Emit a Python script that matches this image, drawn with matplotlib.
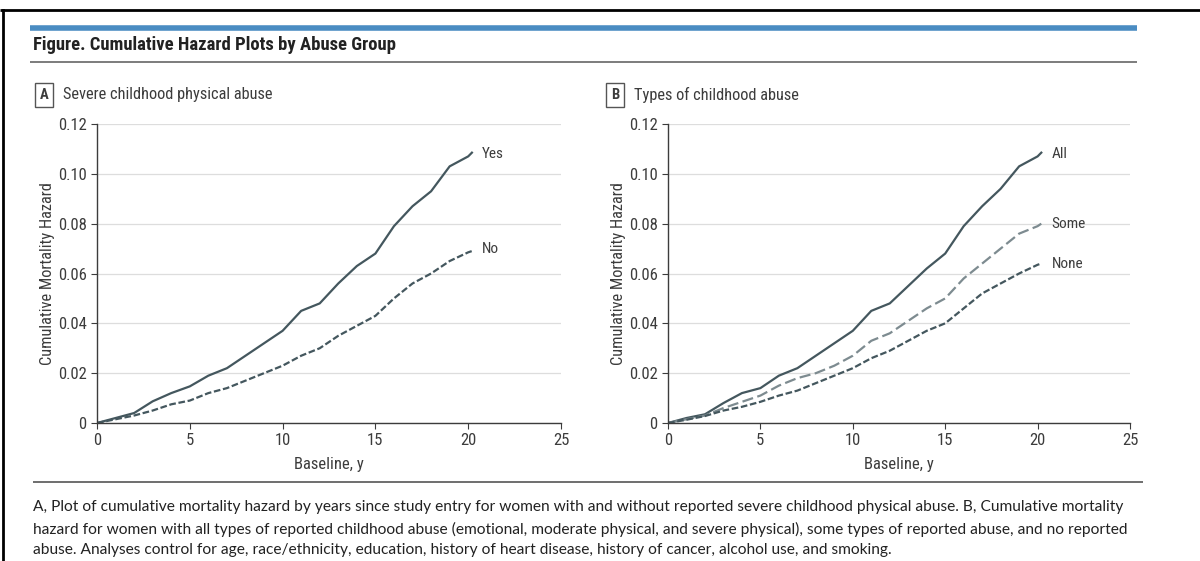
import matplotlib
matplotlib.use('Agg')
import matplotlib.pyplot as plt
from matplotlib.lines import Line2D
from matplotlib import font_manager
import numpy as np

years = [0, 1, 2, 3, 4, 5, 6, 7, 8, 9, 10, 11, 12, 13, 14, 15, 16, 17, 18, 19, 20, 20.2]

# Panel A: severe childhood physical abuse
haz_yes = [0, 0.002, 0.004, 0.0087, 0.012, 0.0147, 0.019, 0.022, 0.027, 0.032, 0.037,
           0.045, 0.048, 0.056, 0.063, 0.068, 0.079, 0.087, 0.093, 0.103, 0.107, 0.1085]
haz_no = [0, 0.0015, 0.003, 0.005, 0.0075, 0.009, 0.012, 0.014, 0.017, 0.020, 0.023,
          0.027, 0.030, 0.035, 0.039, 0.043, 0.050, 0.056, 0.060, 0.065, 0.0685, 0.069]

# Panel B: types of childhood abuse
haz_all = [0, 0.002, 0.0035, 0.008, 0.012, 0.014, 0.019, 0.022, 0.027, 0.032, 0.037,
           0.045, 0.048, 0.055, 0.062, 0.068, 0.079, 0.087, 0.094, 0.103, 0.107, 0.1085]
haz_some = [0, 0.0015, 0.003, 0.006, 0.0085, 0.011, 0.015, 0.018, 0.020, 0.023, 0.027,
            0.033, 0.036, 0.041, 0.046, 0.050, 0.058, 0.064, 0.070, 0.076, 0.079, 0.080]
haz_none = [0, 0.0013, 0.0028, 0.005, 0.0065, 0.0085, 0.011, 0.013, 0.016, 0.019, 0.022,
            0.026, 0.029, 0.033, 0.037, 0.040, 0.046, 0.052, 0.056, 0.060, 0.0635, 0.064]

x_ticks = [0, 5, 10, 15, 20, 25]
y_ticks = [0, 0.02, 0.04, 0.06, 0.08, 0.10, 0.12]
y_ticklabels = ['0', '0.02', '0.04', '0.06', '0.08', '0.10', '0.12']

caption = ('A, Plot of cumulative mortality hazard by years since study entry for women with and without reported severe childhood physical abuse. B, Cumulative mortality\n'
           'hazard for women with all types of reported childhood abuse (emotional, moderate physical, and severe physical), some types of reported abuse, and no reported\n'
           'abuse. Analyses control for age, race/ethnicity, education, history of heart disease, history of cancer, alcohol use, and smoking.')

# a condensed face is closest to the journal font; take the first one installed
names = {f.name for f in font_manager.fontManager.ttflist}
narrow = 'DejaVu Sans'
for cand in ['Liberation Sans Narrow', 'DejaVu Sans Condensed', 'Roboto Condensed', 'Roboto']:
    if cand in names:
        narrow = cand
        break
plt.rcParams['font.family'] = [narrow, 'DejaVu Sans']
plt.rcParams['font.stretch'] = 'condensed'

W, H = 1200, 561
dark = '#3c3c3c'
line_c = '#44575e'
light_c = '#7d8b90'

fig = plt.figure(figsize=(W / 100, H / 100), dpi=100)


def fx(px):
    return px / W


def fy(py):
    return 1 - py / H


def hline(x0, x1, y, color, lw):
    fig.add_artist(Line2D([fx(x0), fx(x1)], [fy(y), fy(y)], transform=fig.transFigure,
                          color=color, lw=lw, solid_capstyle='butt'))


# frame of the screenshot
hline(0, W, 10, 'black', 2)
fig.add_artist(Line2D([fx(3), fx(3)], [fy(10), 0], transform=fig.transFigure, color='black', lw=2))
hline(30, 1137, 28, '#4a8cc2', 4)
hline(30, 1137, 62, '#666666', 1.2)
hline(33, 1143, 482, '#555555', 1.2)

fig.text(fx(33), fy(45), 'Figure. Cumulative Hazard Plots by Abuse Group', fontsize=13.4,
         color='#222222', va='center', ha='left', fontweight='semibold')
fig.text(fx(33), fy(500), caption, fontsize=11.2, color='#222222', va='top', ha='left',
         linespacing=1.62, family=['Lato', 'DejaVu Sans'])


def panel(left_px, right_px, letter, title, series):
    ax = fig.add_axes([fx(left_px), fy(423), fx(right_px - left_px), (423 - 124) / H])
    for ys, style, color, name, ly in series:
        ax.plot(years, ys, linestyle=style, color=color, lw=1.6)
        ax.text(20.75, ly, name, fontsize=11, color=dark, va='center', ha='left')
    ax.set_xlim(0, 25)
    ax.set_ylim(0, 0.12)
    ax.set_xticks(x_ticks)
    ax.set_yticks(y_ticks)
    ax.set_yticklabels(y_ticklabels)
    ax.tick_params(direction='out', length=4, color=dark, labelcolor=dark, labelsize=12)
    for s in ['top', 'right']:
        ax.spines[s].set_visible(False)
    for s in ['left', 'bottom']:
        ax.spines[s].set_color(dark)
        ax.spines[s].set_linewidth(1)
    ax.grid(axis='y', color='#dddddd', lw=0.9)
    ax.set_axisbelow(True)
    ax.set_xlabel('Baseline, y', fontsize=12, color=dark, labelpad=6)
    ax.set_ylabel('Cumulative Mortality Hazard', fontsize=11.8, color=dark, labelpad=2)
    fig.text(fx(left_px - 53), fy(95), letter, fontsize=10.5, fontweight='bold', color=dark,
             ha='center', va='center',
             bbox=dict(boxstyle='square,pad=0.35', fc='white', ec='#555555', lw=1))
    fig.text(fx(left_px - 34), fy(95), title, fontsize=11.8, color=dark, ha='left', va='center')
    return ax


panel(97, 561, 'A', 'Severe childhood physical abuse',
      [(haz_yes, '-', line_c, 'Yes', 0.108),
       (haz_no, (0, (3, 1.2)), line_c, 'No', 0.070)])
panel(668, 1130, 'B', 'Types of childhood abuse',
      [(haz_all, '-', line_c, 'All', 0.108),
       (haz_some, (0, (5, 2)), light_c, 'Some', 0.080),
       (haz_none, (0, (3, 1.2)), line_c, 'None', 0.064)])

fig.savefig('out.png', dpi=100)
